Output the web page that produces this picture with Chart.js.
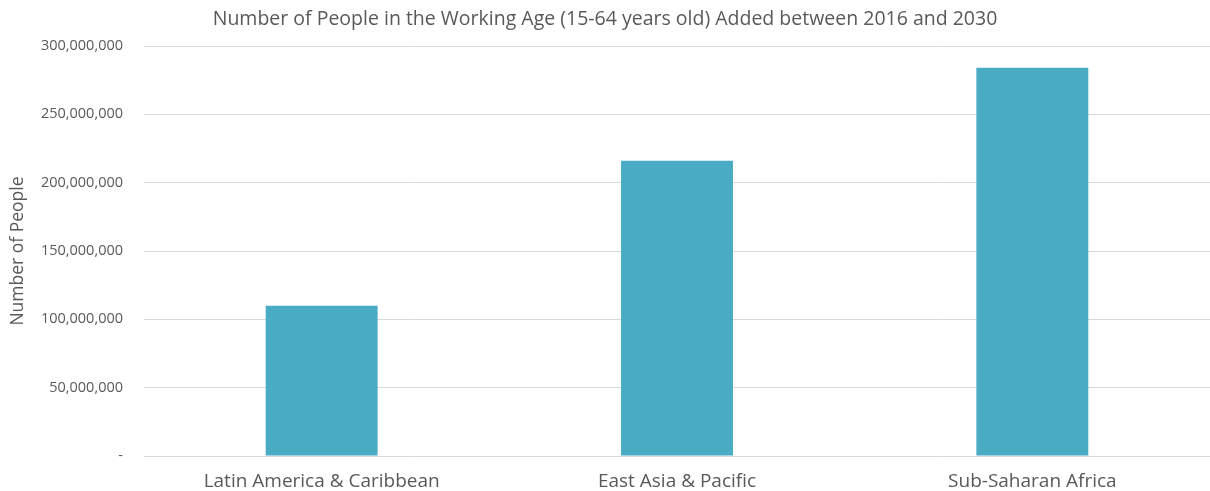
<!DOCTYPE html>
<html>
<head>
<meta charset="utf-8">
<script src="https://cdn.jsdelivr.net/npm/chart.js@4"></script>
<style>
  body { margin: 0; background: #fff; }
  #wrap { width: 1210px; height: 491px; }
</style>
</head>
<body>
<div id="wrap"><canvas id="chart" width="1210" height="491"></canvas></div>
<script>
const regions = ['Latin America & Caribbean', 'East Asia & Pacific', 'Sub-Saharan Africa']
const peopleAdded = [110000000, 216000000, 284000000]
const yTicks = [0, 50000000, 100000000, 150000000, 200000000, 250000000, 300000000]

const grey = '#595959'
const font = '"Open Sans", sans-serif'

new Chart(document.getElementById('chart'), {
    type: 'bar',
    data: {
        labels: regions,
        datasets: [{
            label: 'Number of People',
            data: peopleAdded,
            backgroundColor: '#4AABC5',
            barPercentage: 0.315,
            categoryPercentage: 1
        }]
    },
    options: {
        responsive: false,
        animation: false,
        layout: { padding: { left: 0, right: 0, top: 0, bottom: 0 } },
        plugins: {
            legend: { display: false },
            tooltip: { enabled: false },
            title: {
                display: true,
                text: 'Number of People in the Working Age (15-64 years old) Added between 2016 and 2030',
                color: grey,
                font: { family: font, size: 19.5, weight: 'normal' },
                padding: { top: 8, bottom: 14.6 }
            }
        },
        scales: {
            x: {
                afterFit: scale => { scale.height = 35 },
                grid: { display: false, drawTicks: false },
                border: { display: false },
                ticks: { color: grey, font: { family: font, size: 19 }, padding: 14 }
            },
            y: {
                min: 0,
                max: 300000000,
                afterBuildTicks: scale => { scale.ticks = yTicks.map(v => ({ value: v })) },
                afterFit: scale => { scale.width = 144 },
                grid: { color: '#d9d9d9', drawTicks: false, lineWidth: 1 },
                border: { display: false },
                ticks: {
                    color: grey,
                    font: { family: font, size: 14.5 },
                    padding: 21,
                    callback: v => v === 0 ? '-' : v.toLocaleString('en-US')
                },
                title: {
                    display: true,
                    text: 'Number of People',
                    color: grey,
                    font: { family: font, size: 17.5 },
                    padding: { top: 8, bottom: 0 }
                }
            }
        }
    }
})
</script>
</body>
</html>
